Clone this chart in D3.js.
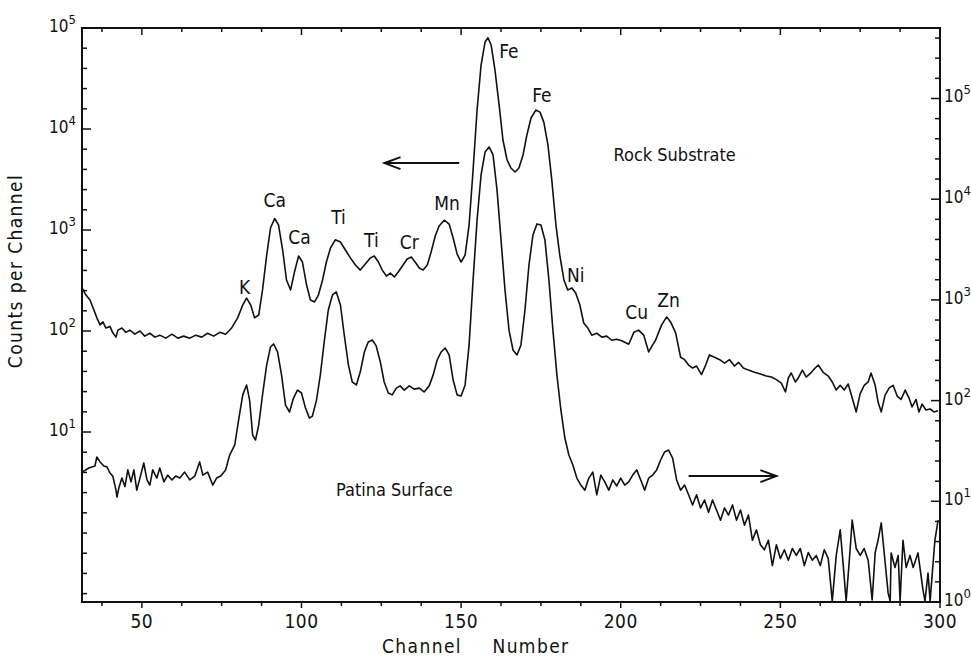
<!DOCTYPE html>
<html>
<head>
<meta charset="utf-8">
<script src="https://cdn.jsdelivr.net/npm/d3@7/dist/d3.min.js"></script>
<style>
  body { margin: 0; background: #fff; }
  svg text { font-family: "DejaVu Sans Condensed", "DejaVu Sans", sans-serif; font-stretch: condensed; fill: #111; }
</style>
</head>
<body>
<svg id="chart" width="971" height="661"></svg>
<script>
// Rock substrate spectrum (read against the left axis)
const rockChannel = [31.25,32.5,33.75,35.0,35.9,36.9,37.8,38.75,40.0,40.9,41.9,42.5,43.75,45.0,46.25,47.8,49.4,50.9,52.5,54.1,55.6,57.5,59.4,61.25,63.1,65.0,66.9,68.75,70.6,72.5,74.4,76.25,78.1,80.0,81.6,82.8,84.1,85.3,86.6,87.8,89.1,90.3,91.6,92.8,94.1,95.3,96.6,97.8,99.1,100.3,101.6,102.8,104.1,105.3,106.6,107.8,109.1,110.6,112.2,113.75,115.3,116.9,118.4,120.0,121.6,122.8,124.1,125.3,126.6,127.8,129.1,130.3,131.6,133.1,134.4,135.6,136.9,138.1,139.4,140.6,141.9,143.1,144.7,146.25,147.5,148.75,150.0,151.25,152.5,153.75,155.0,156.25,157.5,158.4,159.4,160.6,161.9,163.1,164.4,165.6,166.9,168.1,169.4,170.6,171.9,173.4,174.7,175.9,177.2,178.4,179.7,180.9,182.2,183.4,184.7,185.9,187.2,188.4,189.7,190.9,192.5,194.1,195.6,197.2,198.75,200.3,202.5,204.1,205.6,207.2,208.75,210.0,210.9,212.8,214.4,215.6,217.2,218.75,220.0,221.25,222.5,223.75,225.3,226.6,227.8,229.4,231.0,232.5,234.1,235.6,236.9,238.4,240.0,241.9,243.75,245.6,247.2,248.75,250.3,251.6,252.5,253.4,254.7,255.6,256.9,258.1,259.7,260.9,261.9,263.4,265.0,266.25,267.5,268.75,270.0,271.25,272.5,273.75,275.0,276.25,277.5,278.4,279.7,280.6,281.6,282.8,284.1,285.3,286.6,287.8,289.1,290.3,291.25,292.5,293.4,294.4,295.6,296.9,298.1,299.4];
const rockCounts = [267,227,203,161,135,115,123,107,111,96,87,102,107,97,102,93,100,89,95,87,91,85,93,85,89,85,91,87,95,89,97,93,107,135,181,212,181,135,144,255,565,1047,1300,1122,634,320,255,384,553,482,285,203,194,227,320,482,664,800,760,634,530,450,401,460,530,553,482,401,350,375,343,384,440,516,540,482,421,401,450,605,873,1096,1250,1146,834,578,482,565,1122,3930,15400,43000,72600,80000,67900,38400,17300,7780,4930,4110,3750,4110,5530,8730,12850,15400,14700,11700,6950,3130,1120,565,320,255,267,238,181,120,107,91,95,87,89,81,83,80,74,97,102,91,62,73,81,115,138,123,96,55,52,46,43,45,37,46,58,55,52,48,52,45,49,43,41,39,37.5,35.8,35,33,30.5,24.9,34.3,38.4,31.3,34.3,41,35,39,43,46,39,35.8,31.3,26,29,26,29.9,21.7,15.8,24,29,31.3,38.4,29,19.8,15.8,23.2,27.3,29,22.7,21,26,21.7,17.7,21,15.8,18.9,16.5,16.9,15.8,16.2];

// Patina surface spectrum (read against the right axis)
const patinaChannel = [31.25,33.4,35.3,35.9,36.9,38.1,39.1,40.0,40.9,41.9,42.2,42.8,43.75,44.7,45.6,46.6,47.5,48.4,49.4,50.6,51.6,52.5,53.4,54.7,55.6,56.9,58.1,59.4,60.6,61.9,63.4,65.0,66.6,68.1,69.1,70.6,72.2,73.4,74.7,76.25,77.5,79.1,80.3,81.6,82.8,83.75,84.7,85.6,86.6,87.8,89.1,90.3,91.25,92.5,93.75,95.0,96.25,97.5,98.75,100.0,101.25,102.5,103.4,104.7,105.9,107.2,108.4,109.7,110.9,112.2,113.4,114.7,115.9,117.2,118.4,119.7,120.9,122.2,123.4,124.7,125.9,127.2,128.4,129.7,130.9,132.2,133.75,135.3,136.9,138.4,140.0,141.25,142.5,143.75,145.0,146.25,147.5,148.75,150.0,151.25,152.5,153.75,155.0,156.25,157.5,158.75,160.0,161.25,162.5,163.75,165.0,166.25,167.5,168.75,170.0,171.25,172.5,173.75,175.0,176.25,177.5,178.75,180.0,181.25,182.5,183.75,185.0,186.25,187.5,188.75,190.0,191.25,192.5,193.75,195.0,196.25,197.5,198.75,200.0,201.25,202.5,203.75,205.0,206.25,207.5,208.75,210.0,211.25,212.5,213.75,215.0,216.25,217.5,218.75,220.0,221.25,222.5,223.75,225.0,226.25,227.5,228.75,230.0,231.25,232.5,233.75,235.0,236.25,237.5,238.75,240.0,241.25,242.5,243.75,245.0,246.25,247.5,248.75,250.0,251.25,252.5,253.75,255.0,256.25,257.5,258.75,260.0,261.25,262.5,263.75,265.0,266.25,267.5,268.75,269.7,270.6,271.6,272.5,273.75,275.0,276.25,277.5,278.75,279.7,280.6,281.6,283.75,284.4,284.7,285.9,286.9,287.5,288.4,289.4,290.6,291.6,293.1,294.7,295.3,296.25,296.9,298.4,299.4];
const patinaCounts = [19.5,21.4,22.4,27.5,24.6,22.4,21.9,19.1,17.8,12.9,11,13.6,17,14,20.5,15.6,20.5,12.9,17,24,16.3,14.5,20.5,17,21.4,15.6,18.2,16.3,17.8,17,19.5,16.3,17.8,24.6,18.2,19.5,14.5,17,17.8,20.5,28.8,36.3,64,114,143,101,45.5,40.6,57,114,226,341,365,304,180,90,77,106,127,119,84.5,67,70,101,180,400,794,1120,1200,890,448,226,153,143,192,304,382,400,349,242,153,119,114,133,140,127,140,130,133,122,140,180,253,304,333,284,160,114,111,143,357,1580,6210,17400,29400,33000,27500,12300,3940,1250,502,318,284,357,794,2220,4410,5680,5540,3940,1580,502,180,80.7,42.5,28.8,22.9,17,14.5,12.9,17,19.5,11.6,18.2,15.6,12.9,16.3,14.2,17,14.5,15.6,18.2,20.5,16.3,12.9,17,18.2,20.5,25.7,30.9,32.3,26.9,16.3,12.9,14.5,11.6,9.2,11.6,8.6,10.3,7.8,10.3,8.2,6.5,8.6,7.3,9.2,6.5,8.2,5.8,7.3,4.1,5.2,3.7,3.3,4.1,2.3,3.7,2.7,3.3,2.6,3.4,2.9,3.4,2.3,3.1,2.6,2.9,2.3,3.3,2.7,1.02,2.9,5.2,2.3,1.02,2.6,6.5,3.4,2.9,3.4,2.6,1.05,3.1,4.1,6.1,1.23,1.02,3.07,2.2,2.9,1.02,4.1,2.2,2.9,2.2,3.07,1.3,1.02,1.94,1.02,4.1,6.5];

// Axis ticks
const channelLabels = [50, 100, 150, 200, 250, 300];
const leftDecades = [1, 2, 3, 4, 5];
const rightDecades = [0, 1, 2, 3, 4, 5];

// Element annotations: label, channel, counts (left-axis units)
const peakNames    = ["K", "Ca", "Ca", "Ti", "Ti", "Cr", "Mn", "Fe", "Fe", "Ni", "Cu", "Zn"];
const peakChannel  = [82.2, 91.6, 99.4, 111.6, 121.9, 133.75, 145.6, 165.0, 175.3, 185.9, 205.0, 215.0];
const peakCounts   = [273, 1980, 853, 1345, 796, 760, 1850, 59200, 21700, 358, 154, 203];

const svg = d3.select("#chart");
const plot = { left: 82, right: 940, top: 28, bottom: 602 };

const x = d3.scaleLinear().domain([31.25, 300]).range([plot.left, plot.right]);
const yLeft = d3.scaleLog().domain([Math.pow(10, -0.683), 1e5]).range([plot.bottom, plot.top]);
const yRight = d3.scaleLog().domain([1, Math.pow(10, 5.7)]).range([plot.bottom, plot.top]);

svg.append("defs").append("clipPath").attr("id", "plotClip")
  .append("rect").attr("x", plot.left).attr("y", plot.top)
  .attr("width", plot.right - plot.left).attr("height", plot.bottom - plot.top);

// Spectra
const rockLine = d3.line().x(d => x(d[0])).y(d => yLeft(d[1]));
const patinaLine = d3.line().x(d => x(d[0])).y(d => yRight(d[1]));
const g = svg.append("g").attr("clip-path", "url(#plotClip)");
g.append("path").datum(d3.zip(rockChannel, rockCounts))
  .attr("d", rockLine).attr("fill", "none").attr("stroke", "#111").attr("stroke-width", 1.6).attr("stroke-linejoin", "round");
g.append("path").datum(d3.zip(patinaChannel, patinaCounts))
  .attr("d", patinaLine).attr("fill", "none").attr("stroke", "#111").attr("stroke-width", 1.6).attr("stroke-linejoin", "round");

// Frame
svg.append("rect").attr("x", plot.left).attr("y", plot.top)
  .attr("width", plot.right - plot.left).attr("height", plot.bottom - plot.top)
  .attr("fill", "none").attr("stroke", "#111").attr("stroke-width", 2);

// Log ticks every fifth of a decade
function fifthDecades(lo, hi) {
  const t = [];
  for (let k = Math.ceil(lo * 5 - 1e-9); k <= Math.floor(hi * 5 + 1e-9); k++) t.push(k / 5);
  return t;
}
const isWhole = e => Math.abs(e - Math.round(e)) < 1e-6;
const ga = svg.append("g");
const [lL, hL] = yLeft.domain().map(Math.log10);
fifthDecades(lL, hL).forEach(e => {
  const major = isWhole(e) && e >= 1;
  const yy = yLeft(Math.pow(10, e));
  ga.append("line").attr("x1", plot.left).attr("x2", plot.left + (major ? 9 : 5))
    .attr("y1", yy).attr("y2", yy).attr("stroke", "#111").attr("stroke-width", 1.5);
});
const [lR, hR] = yRight.domain().map(Math.log10);
fifthDecades(lR, hR).forEach(e => {
  const yy = yRight(Math.pow(10, e));
  ga.append("line").attr("x1", plot.right).attr("x2", plot.right - (isWhole(e) ? 9 : 5))
    .attr("y1", yy).attr("y2", yy).attr("stroke", "#111").attr("stroke-width", 1.5);
});

// Power-of-ten labels
function powLabel(e, px, py, anchor) {
  const t = svg.append("text").attr("x", px).attr("y", py + 4).attr("text-anchor", anchor).attr("font-size", 17);
  t.append("tspan").text("10");
  t.append("tspan").attr("dy", -8).attr("font-size", 13).text(e);
}
leftDecades.forEach(e => powLabel(e, plot.left - 6, yLeft(Math.pow(10, e)), "end"));
rightDecades.forEach(e => powLabel(e, plot.right + 4, yRight(Math.pow(10, e)), "start"));

// Channel ticks (top and bottom)
d3.range(37.5, 300.1, 12.5).forEach(c => {
  const major = c % 50 === 0;
  ga.append("line").attr("x1", x(c)).attr("x2", x(c)).attr("y1", plot.top).attr("y2", plot.top + (major ? 7 : 4))
    .attr("stroke", "#111").attr("stroke-width", 1.5);
  ga.append("line").attr("x1", x(c)).attr("x2", x(c)).attr("y1", plot.bottom).attr("y2", plot.bottom + (major ? 6 : 4))
    .attr("stroke", "#111").attr("stroke-width", 1.5);
});
svg.append("g").selectAll("text").data(channelLabels).join("text")
  .attr("x", d => x(d)).attr("y", 628).attr("text-anchor", "middle")
  .attr("font-size", 19).attr("letter-spacing", 0.5).text(d => d);

// Axis titles
svg.append("text").attr("transform", "translate(22,271) rotate(-90)")
  .attr("text-anchor", "middle").attr("font-size", 19).attr("letter-spacing", 1.4).text("Counts per Channel");
svg.append("text").attr("x", 422).attr("y", 653).attr("text-anchor", "middle")
  .attr("font-size", 19).attr("letter-spacing", 1.4).text("Channel");
svg.append("text").attr("x", 531).attr("y", 653).attr("text-anchor", "middle")
  .attr("font-size", 19).attr("letter-spacing", 1.4).text("Number");

// Element labels
peakNames.forEach((n, i) => {
  svg.append("text").attr("x", x(peakChannel[i])).attr("y", yLeft(peakCounts[i]))
    .attr("dominant-baseline", "central").attr("text-anchor", "middle").attr("font-size", 19).text(n);
});

// Series names and arrows
svg.append("text").attr("x", x(216.9)).attr("y", yLeft(5530)).attr("dominant-baseline", "central")
  .attr("text-anchor", "middle").attr("font-size", 18).text("Rock Substrate");
svg.append("text").attr("x", x(129.1)).attr("y", yLeft(2.67)).attr("dominant-baseline", "central")
  .attr("text-anchor", "middle").attr("font-size", 18).text("Patina Surface");

function arrow(c0, c1, v) {
  const y0 = yLeft(v), x0 = x(c0), x1 = x(c1);
  const dir = Math.sign(x1 - x0);
  svg.append("line").attr("x1", x0).attr("x2", x1).attr("y1", y0).attr("y2", y0)
    .attr("stroke", "#111").attr("stroke-width", 2);
  svg.append("path").attr("d", `M${x1 - dir * 16},${y0 - 6} L${x1},${y0} L${x1 - dir * 16},${y0 + 6}`)
    .attr("fill", "none").attr("stroke", "#111").attr("stroke-width", 2);
}
arrow(149.4, 126.0, 4600);
arrow(221.25, 248.75, 3.66);
</script>
</body>
</html>
